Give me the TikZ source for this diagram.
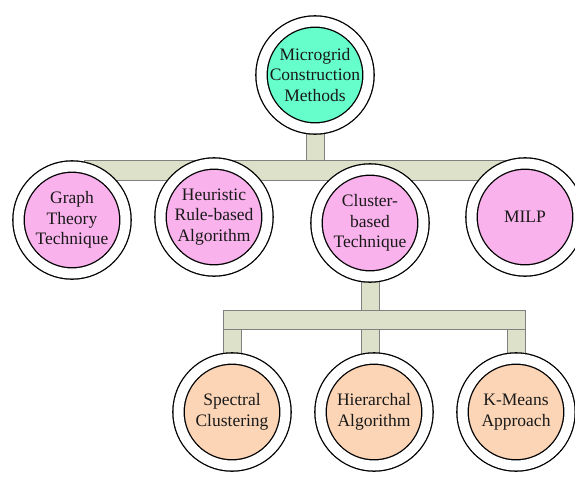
\documentclass[tikz,border=0pt]{standalone}
\usepackage{fontspec}
\setmainfont{Liberation Serif}
\usepackage{tikz}
\usetikzlibrary{backgrounds}
\definecolor{aquafill}{HTML}{66FFCC}
\definecolor{pinkfill}{HTML}{F9B2EC}
\definecolor{peachfill}{HTML}{FBD5B6}
\definecolor{busfill}{HTML}{DDE1CA}

\begin{document}
\begin{tikzpicture}[x=1pt, y=-1pt,
    ring/.style={circle, draw=black, line width=1.3pt, double=white, double distance=10pt,
        minimum size=107pt, inner sep=0pt, align=center, text=black!90,
        font=\fontsize{17.5}{20.5}\selectfont},
    bus/.style={fill=busfill, draw=gray, line width=0.6pt}]
    \useasboundingbox (0,0) rectangle (575,477);

    % Root
    \node[ring, fill=aquafill] (root) at (315,75) {Microgrid\\Construction\\Methods};

    % First level
    \node[ring, fill=pinkfill] (graph) at (72,220) {Graph\\Theory\\Technique};
    \node[ring, fill=pinkfill] (heur) at (214,217) {Heuristic\\Rule-based\\Algorithm};
    \node[ring, fill=pinkfill] (clus) at (370,223) {Cluster-\\based\\Technique};
    \node[ring, fill=pinkfill] (milp) at (525,217) {MILP};

    % Second level
    \node[ring, fill=peachfill] (spec) at (232,412) {Spectral\\Clustering};
    \node[ring, fill=peachfill] (hier) at (374,412) {Hierarchal\\Algorithm};
    \node[ring, fill=peachfill] (kmeans) at (516,412) {K-Means\\Approach};

    % Bus bars
    \coordinate (busA) at (84,160.5);
    \coordinate (busB) at (515,180.5);
    \coordinate (busC) at (223,310);
    \coordinate (busD) at (525,329);

    \begin{scope}[on background layer]
        \draw[bus] (busA) rectangle (busB);
        \draw[bus] ([xshift=-9pt]root.south) rectangle ([xshift=9pt]root.south |- busA);
        \draw[bus] (busC) rectangle (busD);
        \draw[bus] ([xshift=-9pt]clus.south) rectangle ([xshift=9pt]clus.south |- busC);
        \draw[bus] ([xshift=-9pt]busD -| spec) rectangle ([xshift=9pt]spec.north);
        \draw[bus] ([xshift=-9pt]busD -| clus) rectangle ([xshift=9pt]clus.south |- hier.north);
        \draw[bus] ([xshift=-9pt]busD -| kmeans) rectangle ([xshift=9pt]kmeans.north);
    \end{scope}
\end{tikzpicture}
\end{document}
